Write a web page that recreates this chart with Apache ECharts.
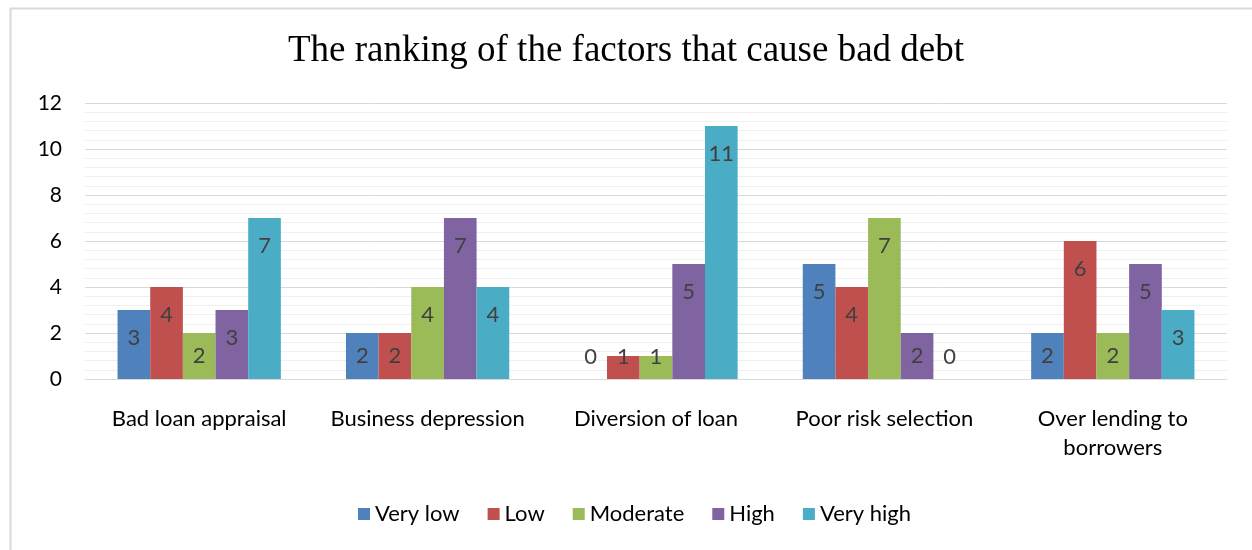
<!DOCTYPE html>
<html><head><meta charset="utf-8">
<script src="https://cdn.jsdelivr.net/npm/echarts@6/dist/echarts.min.js"></script>
<style>html,body{margin:0;padding:0;background:#fff}#c{width:1252px;height:550px}</style>
</head><body><div id="c"></div>
<script>
const categories = ['Bad loan appraisal', 'Business depression', 'Diversion of loan', 'Poor risk selection', 'Over lending to\nborrowers'];
const seriesNames = ['Very low', 'Low', 'Moderate', 'High', 'Very high'];
const veryLow = [3, 2, 0, 5, 2];
const low = [4, 2, 1, 4, 6];
const moderate = [2, 4, 1, 7, 2];
const high = [3, 7, 5, 2, 5];
const veryHigh = [7, 4, 11, 0, 3];
const yTicks = [0, 2, 4, 6, 8, 10, 12];
const colors = ['#4F81BD', '#C0504D', '#9BBB59', '#8064A2', '#4BACC6'];

const allValues = [veryLow, low, moderate, high, veryHigh];
const FONT = 'Lato, "Open Sans", sans-serif';

function labelFor(v) {
  const base = { show: true, color: '#404040', fontFamily: FONT, fontSize: 22 };
  if (v >= 3) return Object.assign(base, { position: 'insideTop', distance: 17 });
  if (v === 2) return Object.assign(base, { position: 'inside' });
  if (v === 1) return Object.assign(base, { position: 'inside', offset: [0, -11] });
  return Object.assign(base, { position: 'top', distance: 11 });
}

const chart = echarts.init(document.getElementById('c'), null, { renderer: 'canvas' });
chart.setOption({
  animation: false,
  color: colors,
  title: {
    text: 'The ranking of the factors that cause bad debt',
    left: 'center', top: 28,
    textStyle: { fontFamily: '"Liberation Serif", "Times New Roman", serif', fontWeight: 'normal', fontSize: 37, color: '#000' }
  },
  graphic: [{
    type: 'rect', left: 8, top: 6, z: -10,
    shape: { width: 1260, height: 560 },
    style: { fill: 'none', stroke: '#d9d9d9', lineWidth: 2 }
  }],
  legend: {
    bottom: 20, left: 353, itemWidth: 12, itemHeight: 12, itemGap: 28,
    icon: 'rect',
    textStyle: { fontFamily: FONT, fontSize: 22, color: '#000' },
    data: seriesNames
  },
  grid: { left: 85, right: 25, top: 103, bottom: 171, containLabel: false },
  xAxis: {
    type: 'category', data: categories,
    axisLine: { lineStyle: { color: '#d9d9d9', width: 1 } },
    axisTick: { show: false },
    axisLabel: { fontFamily: FONT, fontSize: 22, color: '#000', margin: 25, lineHeight: 29, interval: 0 }
  },
  yAxis: {
    type: 'value', min: 0, max: 12, interval: 2,
    axisLine: { show: false }, axisTick: { show: false },
    axisLabel: { fontFamily: FONT, fontSize: 21, color: '#000', margin: 23,
      formatter: v => yTicks.includes(v) ? String(v) : '' },
    splitLine: { lineStyle: { color: '#d9d9d9', width: 1 } },
    minorTick: { show: false, splitNumber: 5 },
    minorSplitLine: { show: true, lineStyle: { color: '#efefef', width: 1 } }
  },
  series: seriesNames.map((name, i) => ({
    name, type: 'bar', barGap: '0%', barCategoryGap: '28.5%',
    data: allValues[i].map(v => ({ value: v, label: labelFor(v) }))
  }))
});
</script></body></html>
